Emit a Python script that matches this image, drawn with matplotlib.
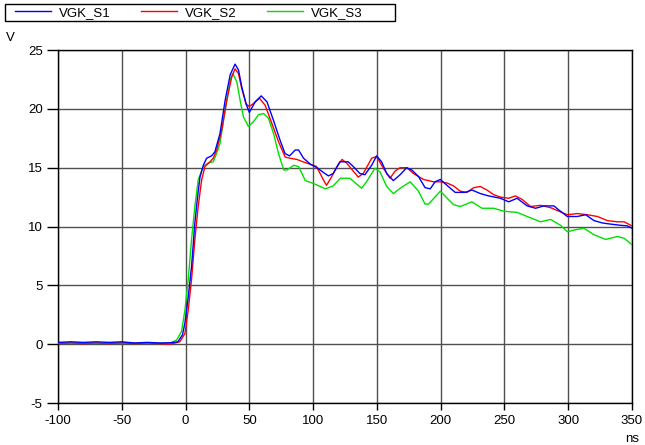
import matplotlib
matplotlib.use('Agg')
import matplotlib.pyplot as plt
from matplotlib.patches import Rectangle

plt.rcParams['font.family'] = ['Liberation Sans', 'DejaVu Sans']
plt.rcParams['font.size'] = 9.5
plt.rcParams['axes.unicode_minus'] = False

# データ
x_s1 = [-100, -90, -80, -70, -60, -50, -40, -30, -20, -12, -6, -2.4, -0.5, 2.1, 4.7, 7.3, 9.2, 11.3, 13.9,
        16.5, 20.4, 23, 27, 31, 35, 38.8, 41.5, 44, 47.5, 50, 54.6, 59.3, 63.8, 69, 74.2, 78, 81.5,
        86, 88.6, 92.5, 97.8, 103, 108, 112, 115.7, 121, 127.5, 131.5, 136.7, 140.6, 145.9, 149.8,
        153.7, 157.7, 162.9, 168.2, 173.4, 177.4, 182.6, 187.8, 191.8, 195.7, 199.7, 204.9, 211.4,
        219.3, 224.5, 231.1, 237.6, 246.8, 253.4, 259.9, 267.8, 274.4, 280.9, 288.8, 292.7, 299.3,
        307.1, 313.7, 320.2, 326.8, 333.4, 341.2, 346.5, 350]
y_s1 = [0.15, 0.2, 0.15, 0.2, 0.15, 0.2, 0.1, 0.15, 0.1, 0.12, 0.2, 0.8, 1.8, 4.0, 6.6, 10.3, 12.3, 14.2, 15.2,
        15.8, 16.0, 16.35, 17.9, 20.7, 22.9, 23.8, 23.3, 21.9, 20.4, 19.7, 20.6, 21.1, 20.6, 19.0, 17.3, 16.2, 16.0,
        16.5, 16.5, 15.8, 15.3, 15.0, 14.6, 14.3, 14.5, 15.5, 15.5, 15.1, 14.5, 14.4, 15.2, 16.0,
        15.5, 14.5, 13.9, 14.4, 15.0, 14.8, 14.25, 13.3, 13.2, 13.8, 14.0, 13.5, 12.9,
        12.9, 13.1, 12.8, 12.6, 12.4, 12.1, 12.4, 11.75, 11.55, 11.75, 11.75, 11.4, 10.85,
        10.85, 11.0, 10.5, 10.3, 10.2, 10.1, 10.05, 9.85]

x_s2 = [-100, -90, -80, -70, -60, -50, -40, -30, -20, -12, -4.5, -0.5, 2.1, 4.7, 7.3, 9.9, 12.6, 15.2,
        19.2, 21.7, 24.4, 28.4, 32.3, 36.2, 38.8, 41.5, 44.1, 47.5, 50, 53.2, 58, 62.4, 67.7, 72.9,
        78.1, 82, 87.3, 92, 97.4, 102.6, 107.9, 110.5, 114.4, 118.8, 122.7, 126.2, 131.5, 135.4,
        139.3, 145.9, 149.8, 155.1, 160.3, 164.2, 168.2, 173.4, 178.7, 186.5, 194.4, 199.7, 204.9,
        210.1, 215.4, 220.6, 225.9, 231.1, 236.3, 241.6, 246.8, 253.4, 258.6, 263.9, 270.4, 278.3,
        286.2, 292.7, 299.3, 307.1, 315, 322.9, 330.7, 338.6, 343.8, 350]
y_s2 = [0.05, 0.1, 0.05, 0.1, 0.05, 0.1, 0.05, 0.1, 0.05, 0.0, 0.2, 0.9, 2.9, 5.5, 8.9, 11.7, 13.95, 15.1,
        15.5, 15.8, 16.5, 18.2, 20.7, 22.7, 23.4, 23.0, 21.7, 20.4, 20.2, 20.45, 20.9, 20.3, 18.75, 17.2,
        15.9, 15.8, 15.7, 15.5, 15.3, 15.1, 14.0, 13.5, 14.2, 15.1, 15.7, 15.4, 14.7, 14.2,
        14.5, 15.8, 15.95, 14.95, 14.1, 14.7, 15.0, 15.0, 14.5, 14.0, 13.8, 13.8, 13.7,
        13.45, 13.0, 12.9, 13.3, 13.4, 13.1, 12.7, 12.5, 12.4, 12.6, 12.3, 11.7, 11.8,
        11.6, 11.3, 11.0, 11.1, 11.0, 10.85, 10.5, 10.4, 10.4, 10.05]

x_s3 = [-100, -90, -80, -70, -60, -50, -40, -30, -20, -12, -7, -3.1, -0.5, 2.1, 4.7, 7.3, 9.9, 13.9,
        17.8, 21.7, 24.3, 27, 31, 34.9, 37, 40.2, 42.8, 45.4, 49.3, 53.2, 57.2, 61.1, 65, 69, 72.9,
        77, 79.5, 84.7, 88.6, 93.9, 100.4, 109.6, 115.7, 121.4, 128.8, 138, 141.9, 148.5, 152.4,
        157.7, 162.9, 168.2, 176.1, 182.6, 187.8, 190.5, 199.7, 210.1, 215.4, 224.5, 232.4, 241.6,
        249.4, 259.9, 267.8, 278.3, 286.2, 294, 299.3, 304.5, 312.4, 320.2, 329.4, 338.6, 343.8, 350]
y_s3 = [0.08, 0.12, 0.08, 0.1, 0.08, 0.12, 0.08, 0.1, 0.08, 0.1, 0.35, 1.1, 2.9, 5.5, 8.9, 11.7, 13.95, 15.1,
        15.4, 15.5, 16.2, 17.05, 19.9, 22.4, 23.0, 22.3, 20.7, 19.3, 18.5, 18.9, 19.5, 19.6, 19.2, 17.9, 16.2,
        14.8, 14.8, 15.2, 15.1, 13.9, 13.65, 13.2, 13.45, 14.1, 14.1, 13.25, 13.8, 14.95, 14.65,
        13.4, 12.8, 13.25, 13.8, 13.0, 11.9, 11.9, 13.0, 11.85, 11.7, 12.1, 11.55, 11.55,
        11.3, 11.2, 10.85, 10.4, 10.6, 10.1, 9.55, 9.7, 9.85, 9.3, 8.9, 9.15, 9.0, 8.45]

x_ticks = [-100, -50, 0, 50, 100, 150, 200, 250, 300, 350]
y_ticks = [-5, 0, 5, 10, 15, 20, 25]

fig = plt.figure(figsize=(6.45, 4.45), dpi=100)
ax = fig.add_axes([58 / 645, 1 - 403 / 445, 574 / 645, 353 / 445])

l1, = ax.plot(x_s1, y_s1, color='#0000ff', lw=1.0, label='VGK_S1', zorder=5)
l2, = ax.plot(x_s2, y_s2, color='#ff0000', lw=1.0, label='VGK_S2', zorder=4)
l3, = ax.plot(x_s3, y_s3, color='#00e000', lw=1.0, label='VGK_S3', zorder=3)

# スケール設定
ax.set_xlim(-100, 350)
ax.set_ylim(-5, 25)
ax.set_xticks(x_ticks)
ax.set_yticks(y_ticks)
ax.grid(True, color='#505050', lw=1.0)
ax.tick_params(axis='y', direction='out', length=8, width=1, pad=3)
ax.tick_params(axis='x', direction='out', length=5, width=1, pad=4)
for s in ax.spines.values():
    s.set_color('black')
    s.set_linewidth(1.0)

# 単位
fig.text(10 / 645, 1 - 38 / 445, 'V', ha='center', va='center')
fig.text(632 / 645, 1 - 439 / 445, 'ns', ha='center', va='center')

# 凡例の枠
fig.patches.append(Rectangle((5 / 645, 1 - 21 / 445), 390 / 645, 17 / 445,
                             transform=fig.transFigure, fill=False, edgecolor='black', lw=1))
fig.legend(handles=[l1, l2, l3], loc='center left', bbox_to_anchor=(15 / 645, 1 - 12.5 / 445),
           ncol=3, frameon=False, handlelength=2.7, handletextpad=0.6, columnspacing=2.35,
           borderpad=0, borderaxespad=0)

fig.savefig('out.png', dpi=100)
plt.close()
